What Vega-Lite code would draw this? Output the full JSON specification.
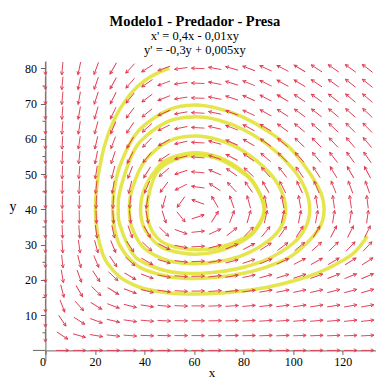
{
"$schema": "https://vega.github.io/schema/vega-lite/v6.json",
"width": 331, "height": 300, "autosize": "none",
"padding": {"left": 45.4, "top": 61, "right": 0, "bottom": 19},
"background": "white",
"config": {"view": {"stroke": null}, "font": "Liberation Serif"},
"title": {"text": "Modelo1 - Predador - Presa", "subtitle": ["x' = 0,4x - 0,01xy", "y' = -0,3y + 0,005xy"], "font": "Liberation Serif", "fontSize": 14.5, "fontWeight": "bold", "color": "#000", "subtitleFont": "Liberation Sans Narrow", "subtitleFontSize": 12.5, "subtitleColor": "#000", "subtitlePadding": 1, "subtitleLineHeight": 13.5, "anchor": "middle", "dx": -16, "offset": 3},
"datasets": {
"minor": [{"y":5},{"y":15},{"y":25},{"y":35},{"y":45},{"y":55},{"y":65},{"y":75}],
"orbits": [
{"o":0,"k":0,"x":41,"y":40},{"o":0,"k":1,"x":42,"y":35.5},{"o":0,"k":2,"x":45,"y":32},{"o":0,"k":3,"x":50,"y":29.8},{"o":0,"k":4,"x":60,"y":28.6},{"o":0,"k":5,"x":70,"y":29.2},{"o":0,"k":6,"x":80,"y":31.8},{"o":0,"k":7,"x":85,"y":34.6},{"o":0,"k":8,"x":88.3,"y":40},{"o":0,"k":9,"x":85,"y":46.4},{"o":0,"k":10,"x":80,"y":50.2},{"o":0,"k":11,"x":70,"y":54.3},{"o":0,"k":12,"x":60,"y":55.4},{"o":0,"k":13,"x":50,"y":53.4},{"o":0,"k":14,"x":45,"y":50.5},{"o":0,"k":15,"x":42,"y":45},
{"o":1,"k":0,"x":38.4,"y":40},{"o":1,"k":1,"x":40,"y":34.6},{"o":1,"k":2,"x":45,"y":30.2},{"o":1,"k":3,"x":50,"y":28.4},{"o":1,"k":4,"x":60,"y":27.3},{"o":1,"k":5,"x":70,"y":28.2},{"o":1,"k":6,"x":80,"y":31.2},{"o":1,"k":7,"x":85,"y":34.2},{"o":1,"k":8,"x":88.5,"y":40},{"o":1,"k":9,"x":85,"y":46.6},{"o":1,"k":10,"x":80,"y":50.6},{"o":1,"k":11,"x":70,"y":54.8},{"o":1,"k":12,"x":60,"y":56.1},{"o":1,"k":13,"x":50,"y":54.4},{"o":1,"k":14,"x":45,"y":51.6},{"o":1,"k":15,"x":40,"y":45.9},
{"o":2,"k":0,"x":33.9,"y":40},{"o":2,"k":1,"x":35,"y":34.7},{"o":2,"k":2,"x":40,"y":28.9},{"o":2,"k":3,"x":50,"y":25.4},{"o":2,"k":4,"x":60,"y":24.6},{"o":2,"k":5,"x":70,"y":25.2},{"o":2,"k":6,"x":80,"y":27.1},{"o":2,"k":7,"x":90,"y":31.1},{"o":2,"k":8,"x":95,"y":34.9},{"o":2,"k":9,"x":97,"y":40},{"o":2,"k":10,"x":95,"y":45.6},{"o":2,"k":11,"x":90,"y":50.7},{"o":2,"k":12,"x":80,"y":56.5},{"o":2,"k":13,"x":70,"y":59.7},{"o":2,"k":14,"x":60,"y":60.8},{"o":2,"k":15,"x":50,"y":59.4},{"o":2,"k":16,"x":40,"y":53.6},{"o":2,"k":17,"x":35,"y":45.8},
{"o":3,"k":0,"x":29.4,"y":40},{"o":3,"k":1,"x":30,"y":35.7},{"o":3,"k":2,"x":35,"y":27.7},{"o":3,"k":3,"x":40,"y":24.85},{"o":3,"k":4,"x":50,"y":22.4},{"o":3,"k":5,"x":60,"y":21.8},{"o":3,"k":6,"x":70,"y":22.3},{"o":3,"k":7,"x":80,"y":23.6},{"o":3,"k":8,"x":90,"y":26},{"o":3,"k":9,"x":100,"y":30.4},{"o":3,"k":10,"x":105,"y":34.9},{"o":3,"k":11,"x":106.7,"y":40},{"o":3,"k":12,"x":105,"y":45.6},{"o":3,"k":13,"x":100,"y":51.4},{"o":3,"k":14,"x":90,"y":58.2},{"o":3,"k":15,"x":80,"y":62.6},{"o":3,"k":16,"x":70,"y":65.3},{"o":3,"k":17,"x":60,"y":66.25},{"o":3,"k":18,"x":50,"y":65.1},{"o":3,"k":19,"x":40,"y":60.4},{"o":3,"k":20,"x":35,"y":55.5},{"o":3,"k":21,"x":30,"y":45},
{"o":4,"k":0,"x":27.1,"y":40},{"o":4,"k":1,"x":28,"y":34.2},{"o":4,"k":2,"x":30,"y":29.8},{"o":4,"k":3,"x":35,"y":25.2},{"o":4,"k":4,"x":40,"y":22.9},{"o":4,"k":5,"x":50,"y":20.9},{"o":4,"k":6,"x":60,"y":20.4},{"o":4,"k":7,"x":70,"y":20.8},{"o":4,"k":8,"x":80,"y":21.9},{"o":4,"k":9,"x":90,"y":23.85},{"o":4,"k":10,"x":100,"y":27.1},{"o":4,"k":11,"x":110,"y":34.1},{"o":4,"k":12,"x":112.5,"y":40},{"o":4,"k":13,"x":110,"y":46.5},{"o":4,"k":14,"x":100,"y":56.5},{"o":4,"k":15,"x":90,"y":62.1},{"o":4,"k":16,"x":80,"y":66.1},{"o":4,"k":17,"x":70,"y":68.6},{"o":4,"k":18,"x":60,"y":69.6},{"o":4,"k":19,"x":50,"y":68.3},{"o":4,"k":20,"x":40,"y":63.9},{"o":4,"k":21,"x":35,"y":59.8},{"o":4,"k":22,"x":30,"y":52.2},{"o":4,"k":23,"x":28,"y":46.5}
],
"outer": [
{"k":0,"x":50,"y":80},{"k":1,"x":45,"y":78.6},{"k":2,"x":40,"y":76.5},{"k":3,"x":35,"y":73.3},{"k":4,"x":30,"y":68.4},{"k":5,"x":27,"y":64.2},{"k":6,"x":25,"y":60.6},{"k":7,"x":23,"y":55.7},{"k":8,"x":21,"y":48},{"k":9,"x":20.2,"y":40},{"k":10,"x":21,"y":33.2},{"k":11,"x":23,"y":27.6},{"k":12,"x":25,"y":24.75},{"k":13,"x":30,"y":20.85},{"k":14,"x":35,"y":18.8},{"k":15,"x":40,"y":17.5},{"k":16,"x":50,"y":16.3},{"k":17,"x":60,"y":16},{"k":18,"x":70,"y":16.2},{"k":19,"x":80,"y":16.9},{"k":20,"x":90,"y":18},{"k":21,"x":100,"y":19.7},{"k":22,"x":110,"y":22},{"k":23,"x":120,"y":25.5},{"k":24,"x":125,"y":28},{"k":25,"x":130,"y":32.4}
],
"field": [
{"x":0,"y":4.21,"a":180},{"x":0,"y":8.42,"a":180},{"x":0,"y":12.63,"a":180},{"x":0,"y":16.84,"a":180},{"x":0,"y":21.05,"a":180},{"x":0,"y":25.26,"a":180},{"x":0,"y":29.47,"a":180},{"x":0,"y":33.68,"a":180},{"x":0,"y":37.89,"a":180},{"x":0,"y":42.11,"a":180},{"x":0,"y":46.32,"a":180},{"x":0,"y":50.53,"a":180},{"x":0,"y":54.74,"a":180},{"x":0,"y":58.95,"a":180},{"x":0,"y":63.16,"a":180},{"x":0,"y":67.37,"a":180},{"x":0,"y":71.58,"a":180},{"x":0,"y":75.79,"a":180},{"x":0,"y":80,"a":180},
{"x":6.84,"y":0,"a":90},{"x":6.84,"y":4.21,"a":123},{"x":6.84,"y":8.42,"a":146},{"x":6.84,"y":12.63,"a":159},{"x":6.84,"y":16.84,"a":166},{"x":6.84,"y":21.05,"a":171},{"x":6.84,"y":25.26,"a":174},{"x":6.84,"y":29.47,"a":176},{"x":6.84,"y":33.68,"a":178},{"x":6.84,"y":37.89,"a":179},{"x":6.84,"y":42.11,"a":181},{"x":6.84,"y":46.32,"a":181},{"x":6.84,"y":50.53,"a":182},{"x":6.84,"y":54.74,"a":183},{"x":6.84,"y":58.95,"a":183},{"x":6.84,"y":63.16,"a":184},{"x":6.84,"y":67.37,"a":184},{"x":6.84,"y":71.58,"a":185},{"x":6.84,"y":75.79,"a":185},{"x":6.84,"y":80,"a":185},
{"x":13.68,"y":0,"a":90},{"x":13.68,"y":4.21,"a":106},{"x":13.68,"y":8.42,"a":123},{"x":13.68,"y":12.63,"a":138},{"x":13.68,"y":16.84,"a":150},{"x":13.68,"y":21.05,"a":160},{"x":13.68,"y":25.26,"a":166},{"x":13.68,"y":29.47,"a":172},{"x":13.68,"y":33.68,"a":176},{"x":13.68,"y":37.89,"a":179},{"x":13.68,"y":42.11,"a":181},{"x":13.68,"y":46.32,"a":183},{"x":13.68,"y":50.53,"a":185},{"x":13.68,"y":54.74,"a":186},{"x":13.68,"y":58.95,"a":188},{"x":13.68,"y":63.16,"a":189},{"x":13.68,"y":67.37,"a":190},{"x":13.68,"y":71.58,"a":190},{"x":13.68,"y":75.79,"a":191},{"x":13.68,"y":80,"a":192},
{"x":20.53,"y":0,"a":90},{"x":20.53,"y":4.21,"a":99},{"x":20.53,"y":8.42,"a":110},{"x":20.53,"y":12.63,"a":122},{"x":20.53,"y":16.84,"a":135},{"x":20.53,"y":21.05,"a":147},{"x":20.53,"y":25.26,"a":157},{"x":20.53,"y":29.47,"a":165},{"x":20.53,"y":33.68,"a":172},{"x":20.53,"y":37.89,"a":178},{"x":20.53,"y":42.11,"a":182},{"x":20.53,"y":46.32,"a":186},{"x":20.53,"y":50.53,"a":189},{"x":20.53,"y":54.74,"a":191},{"x":20.53,"y":58.95,"a":193},{"x":20.53,"y":63.16,"a":195},{"x":20.53,"y":67.37,"a":196},{"x":20.53,"y":71.58,"a":198},{"x":20.53,"y":75.79,"a":199},{"x":20.53,"y":80,"a":200},
{"x":27.37,"y":0,"a":90},{"x":27.37,"y":4.21,"a":96},{"x":27.37,"y":8.42,"a":103},{"x":27.37,"y":12.63,"a":111},{"x":27.37,"y":16.84,"a":122},{"x":27.37,"y":21.05,"a":133},{"x":27.37,"y":25.26,"a":146},{"x":27.37,"y":29.47,"a":157},{"x":27.37,"y":33.68,"a":168},{"x":27.37,"y":37.89,"a":176},{"x":27.37,"y":42.11,"a":183},{"x":27.37,"y":46.32,"a":189},{"x":27.37,"y":50.53,"a":194},{"x":27.37,"y":54.74,"a":198},{"x":27.37,"y":58.95,"a":201},{"x":27.37,"y":63.16,"a":203},{"x":27.37,"y":67.37,"a":206},{"x":27.37,"y":71.58,"a":207},{"x":27.37,"y":75.79,"a":209},{"x":27.37,"y":80,"a":210},
{"x":34.21,"y":0,"a":90},{"x":34.21,"y":4.21,"a":94},{"x":34.21,"y":8.42,"a":98},{"x":34.21,"y":12.63,"a":104},{"x":34.21,"y":16.84,"a":111},{"x":34.21,"y":21.05,"a":121},{"x":34.21,"y":25.26,"a":133},{"x":34.21,"y":29.47,"a":146},{"x":34.21,"y":33.68,"a":161},{"x":34.21,"y":37.89,"a":174},{"x":34.21,"y":42.11,"a":185},{"x":34.21,"y":46.32,"a":194},{"x":34.21,"y":50.53,"a":201},{"x":34.21,"y":54.74,"a":207},{"x":34.21,"y":58.95,"a":211},{"x":34.21,"y":63.16,"a":214},{"x":34.21,"y":67.37,"a":217},{"x":34.21,"y":71.58,"a":219},{"x":34.21,"y":75.79,"a":221},{"x":34.21,"y":80,"a":223},
{"x":41.05,"y":0,"a":90},{"x":41.05,"y":4.21,"a":92},{"x":41.05,"y":8.42,"a":95},{"x":41.05,"y":12.63,"a":99},{"x":41.05,"y":16.84,"a":104},{"x":41.05,"y":21.05,"a":110},{"x":41.05,"y":25.26,"a":120},{"x":41.05,"y":29.47,"a":133},{"x":41.05,"y":33.68,"a":150},{"x":41.05,"y":37.89,"a":170},{"x":41.05,"y":42.11,"a":189},{"x":41.05,"y":46.32,"a":203},{"x":41.05,"y":50.53,"a":212},{"x":41.05,"y":54.74,"a":219},{"x":41.05,"y":58.95,"a":224},{"x":41.05,"y":63.16,"a":228},{"x":41.05,"y":67.37,"a":231},{"x":41.05,"y":71.58,"a":233},{"x":41.05,"y":75.79,"a":235},{"x":41.05,"y":80,"a":237},
{"x":47.89,"y":0,"a":90},{"x":47.89,"y":4.21,"a":91},{"x":47.89,"y":8.42,"a":93},{"x":47.89,"y":12.63,"a":95},{"x":47.89,"y":16.84,"a":98},{"x":47.89,"y":21.05,"a":101},{"x":47.89,"y":25.26,"a":107},{"x":47.89,"y":29.47,"a":117},{"x":47.89,"y":33.68,"a":134},{"x":47.89,"y":37.89,"a":163},{"x":47.89,"y":42.11,"a":196},{"x":47.89,"y":46.32,"a":217},{"x":47.89,"y":50.53,"a":229},{"x":47.89,"y":54.74,"a":236},{"x":47.89,"y":58.95,"a":241},{"x":47.89,"y":63.16,"a":244},{"x":47.89,"y":67.37,"a":246},{"x":47.89,"y":71.58,"a":248},{"x":47.89,"y":75.79,"a":249},{"x":47.89,"y":80,"a":250},
{"x":54.74,"y":0,"a":90},{"x":54.74,"y":4.21,"a":90},{"x":54.74,"y":8.42,"a":91},{"x":54.74,"y":12.63,"a":92},{"x":54.74,"y":16.84,"a":93},{"x":54.74,"y":21.05,"a":94},{"x":54.74,"y":25.26,"a":97},{"x":54.74,"y":29.47,"a":101},{"x":54.74,"y":33.68,"a":110},{"x":54.74,"y":37.89,"a":141},{"x":54.74,"y":42.11,"a":216},{"x":54.74,"y":46.32,"a":243},{"x":54.74,"y":50.53,"a":252},{"x":54.74,"y":54.74,"a":256},{"x":54.74,"y":58.95,"a":258},{"x":54.74,"y":63.16,"a":259},{"x":54.74,"y":67.37,"a":260},{"x":54.74,"y":71.58,"a":261},{"x":54.74,"y":75.79,"a":262},{"x":54.74,"y":80,"a":262},
{"x":61.58,"y":0,"a":90},{"x":61.58,"y":4.21,"a":90},{"x":61.58,"y":8.42,"a":90},{"x":61.58,"y":12.63,"a":90},{"x":61.58,"y":16.84,"a":89},{"x":61.58,"y":21.05,"a":89},{"x":61.58,"y":25.26,"a":88},{"x":61.58,"y":29.47,"a":87},{"x":61.58,"y":33.68,"a":84},{"x":61.58,"y":37.89,"a":72},{"x":61.58,"y":42.11,"a":290},{"x":61.58,"y":46.32,"a":278},{"x":61.58,"y":50.53,"a":275},{"x":61.58,"y":54.74,"a":274},{"x":61.58,"y":58.95,"a":273},{"x":61.58,"y":63.16,"a":273},{"x":61.58,"y":67.37,"a":273},{"x":61.58,"y":71.58,"a":272},{"x":61.58,"y":75.79,"a":272},{"x":61.58,"y":80,"a":272},
{"x":68.42,"y":0,"a":90},{"x":68.42,"y":4.21,"a":89},{"x":68.42,"y":8.42,"a":89},{"x":68.42,"y":12.63,"a":88},{"x":68.42,"y":16.84,"a":86},{"x":68.42,"y":21.05,"a":84},{"x":68.42,"y":25.26,"a":81},{"x":68.42,"y":29.47,"a":76},{"x":68.42,"y":33.68,"a":65},{"x":68.42,"y":37.89,"a":32},{"x":68.42,"y":42.11,"a":330},{"x":68.42,"y":46.32,"a":303},{"x":68.42,"y":50.53,"a":293},{"x":68.42,"y":54.74,"a":288},{"x":68.42,"y":58.95,"a":285},{"x":68.42,"y":63.16,"a":283},{"x":68.42,"y":67.37,"a":282},{"x":68.42,"y":71.58,"a":281},{"x":68.42,"y":75.79,"a":281},{"x":68.42,"y":80,"a":280},
{"x":75.26,"y":0,"a":90},{"x":75.26,"y":4.21,"a":89},{"x":75.26,"y":8.42,"a":88},{"x":75.26,"y":12.63,"a":86},{"x":75.26,"y":16.84,"a":84},{"x":75.26,"y":21.05,"a":81},{"x":75.26,"y":25.26,"a":76},{"x":75.26,"y":29.47,"a":68},{"x":75.26,"y":33.68,"a":52},{"x":75.26,"y":37.89,"a":21},{"x":75.26,"y":42.11,"a":341},{"x":75.26,"y":46.32,"a":317},{"x":75.26,"y":50.53,"a":305},{"x":75.26,"y":54.74,"a":298},{"x":75.26,"y":58.95,"a":294},{"x":75.26,"y":63.16,"a":291},{"x":75.26,"y":67.37,"a":290},{"x":75.26,"y":71.58,"a":288},{"x":75.26,"y":75.79,"a":287},{"x":75.26,"y":80,"a":286},
{"x":82.11,"y":0,"a":90},{"x":82.11,"y":4.21,"a":89},{"x":82.11,"y":8.42,"a":87},{"x":82.11,"y":12.63,"a":85},{"x":82.11,"y":16.84,"a":82},{"x":82.11,"y":21.05,"a":78},{"x":82.11,"y":25.26,"a":72},{"x":82.11,"y":29.47,"a":62},{"x":82.11,"y":33.68,"a":44},{"x":82.11,"y":37.89,"a":16},{"x":82.11,"y":42.11,"a":345},{"x":82.11,"y":46.32,"a":325},{"x":82.11,"y":50.53,"a":313},{"x":82.11,"y":54.74,"a":305},{"x":82.11,"y":58.95,"a":301},{"x":82.11,"y":63.16,"a":298},{"x":82.11,"y":67.37,"a":295},{"x":82.11,"y":71.58,"a":294},{"x":82.11,"y":75.79,"a":292},{"x":82.11,"y":80,"a":291},
{"x":88.95,"y":0,"a":90},{"x":88.95,"y":4.21,"a":88},{"x":88.95,"y":8.42,"a":86},{"x":88.95,"y":12.63,"a":84},{"x":88.95,"y":16.84,"a":80},{"x":88.95,"y":21.05,"a":75},{"x":88.95,"y":25.26,"a":68},{"x":88.95,"y":29.47,"a":57},{"x":88.95,"y":33.68,"a":39},{"x":88.95,"y":37.89,"a":13},{"x":88.95,"y":42.11,"a":348},{"x":88.95,"y":46.32,"a":330},{"x":88.95,"y":50.53,"a":318},{"x":88.95,"y":54.74,"a":311},{"x":88.95,"y":58.95,"a":306},{"x":88.95,"y":63.16,"a":302},{"x":88.95,"y":67.37,"a":300},{"x":88.95,"y":71.58,"a":298},{"x":88.95,"y":75.79,"a":296},{"x":88.95,"y":80,"a":295},
{"x":95.79,"y":0,"a":90},{"x":95.79,"y":4.21,"a":88},{"x":95.79,"y":8.42,"a":86},{"x":95.79,"y":12.63,"a":83},{"x":95.79,"y":16.84,"a":79},{"x":95.79,"y":21.05,"a":73},{"x":95.79,"y":25.26,"a":65},{"x":95.79,"y":29.47,"a":53},{"x":95.79,"y":33.68,"a":35},{"x":95.79,"y":37.89,"a":12},{"x":95.79,"y":42.11,"a":349},{"x":95.79,"y":46.32,"a":333},{"x":95.79,"y":50.53,"a":322},{"x":95.79,"y":54.74,"a":315},{"x":95.79,"y":58.95,"a":310},{"x":95.79,"y":63.16,"a":306},{"x":95.79,"y":67.37,"a":303},{"x":95.79,"y":71.58,"a":301},{"x":95.79,"y":75.79,"a":299},{"x":95.79,"y":80,"a":298},
{"x":102.63,"y":0,"a":90},{"x":102.63,"y":4.21,"a":88},{"x":102.63,"y":8.42,"a":85},{"x":102.63,"y":12.63,"a":82},{"x":102.63,"y":16.84,"a":78},{"x":102.63,"y":21.05,"a":72},{"x":102.63,"y":25.26,"a":63},{"x":102.63,"y":29.47,"a":50},{"x":102.63,"y":33.68,"a":32},{"x":102.63,"y":37.89,"a":11},{"x":102.63,"y":42.11,"a":350},{"x":102.63,"y":46.32,"a":335},{"x":102.63,"y":50.53,"a":325},{"x":102.63,"y":54.74,"a":318},{"x":102.63,"y":58.95,"a":313},{"x":102.63,"y":63.16,"a":309},{"x":102.63,"y":67.37,"a":306},{"x":102.63,"y":71.58,"a":304},{"x":102.63,"y":75.79,"a":302},{"x":102.63,"y":80,"a":301},
{"x":109.47,"y":0,"a":90},{"x":109.47,"y":4.21,"a":88},{"x":109.47,"y":8.42,"a":85},{"x":109.47,"y":12.63,"a":81},{"x":109.47,"y":16.84,"a":77},{"x":109.47,"y":21.05,"a":70},{"x":109.47,"y":25.26,"a":61},{"x":109.47,"y":29.47,"a":48},{"x":109.47,"y":33.68,"a":30},{"x":109.47,"y":37.89,"a":10},{"x":109.47,"y":42.11,"a":351},{"x":109.47,"y":46.32,"a":337},{"x":109.47,"y":50.53,"a":327},{"x":109.47,"y":54.74,"a":320},{"x":109.47,"y":58.95,"a":315},{"x":109.47,"y":63.16,"a":311},{"x":109.47,"y":67.37,"a":308},{"x":109.47,"y":71.58,"a":306},{"x":109.47,"y":75.79,"a":304},{"x":109.47,"y":80,"a":303},
{"x":116.32,"y":0,"a":90},{"x":116.32,"y":4.21,"a":88},{"x":116.32,"y":8.42,"a":85},{"x":116.32,"y":12.63,"a":81},{"x":116.32,"y":16.84,"a":76},{"x":116.32,"y":21.05,"a":69},{"x":116.32,"y":25.26,"a":59},{"x":116.32,"y":29.47,"a":46},{"x":116.32,"y":33.68,"a":28},{"x":116.32,"y":37.89,"a":9},{"x":116.32,"y":42.11,"a":352},{"x":116.32,"y":46.32,"a":338},{"x":116.32,"y":50.53,"a":329},{"x":116.32,"y":54.74,"a":322},{"x":116.32,"y":58.95,"a":317},{"x":116.32,"y":63.16,"a":313},{"x":116.32,"y":67.37,"a":310},{"x":116.32,"y":71.58,"a":308},{"x":116.32,"y":75.79,"a":306},{"x":116.32,"y":80,"a":305},
{"x":123.16,"y":0,"a":90},{"x":123.16,"y":4.21,"a":88},{"x":123.16,"y":8.42,"a":84},{"x":123.16,"y":12.63,"a":80},{"x":123.16,"y":16.84,"a":75},{"x":123.16,"y":21.05,"a":68},{"x":123.16,"y":25.26,"a":58},{"x":123.16,"y":29.47,"a":44},{"x":123.16,"y":33.68,"a":27},{"x":123.16,"y":37.89,"a":9},{"x":123.16,"y":42.11,"a":352},{"x":123.16,"y":46.32,"a":340},{"x":123.16,"y":50.53,"a":330},{"x":123.16,"y":54.74,"a":324},{"x":123.16,"y":58.95,"a":319},{"x":123.16,"y":63.16,"a":315},{"x":123.16,"y":67.37,"a":312},{"x":123.16,"y":71.58,"a":310},{"x":123.16,"y":75.79,"a":308},{"x":123.16,"y":80,"a":306},
{"x":130,"y":0,"a":90},{"x":130,"y":4.21,"a":87},{"x":130,"y":8.42,"a":84},{"x":130,"y":12.63,"a":80},{"x":130,"y":16.84,"a":74},{"x":130,"y":21.05,"a":67},{"x":130,"y":25.26,"a":57},{"x":130,"y":29.47,"a":43},{"x":130,"y":33.68,"a":26},{"x":130,"y":37.89,"a":8},{"x":130,"y":42.11,"a":353},{"x":130,"y":46.32,"a":341},{"x":130,"y":50.53,"a":332},{"x":130,"y":54.74,"a":325},{"x":130,"y":58.95,"a":320},{"x":130,"y":63.16,"a":316},{"x":130,"y":67.37,"a":313},{"x":130,"y":71.58,"a":311},{"x":130,"y":75.79,"a":309},{"x":130,"y":80,"a":307}
]
},
"layer": [
{"data": {"name": "orbits"},
 "mark": {"type": "line", "interpolate": "cardinal-closed", "color": "#e2e23a", "strokeWidth": 3.5, "opacity": 0.9},
 "encoding": {
  "x": {"field": "x", "type": "quantitative", "scale": {"domain": [0, 133.6], "nice": false, "zero": false},
   "axis": {"orient": "bottom", "offset": -10.6, "values": [0,10,20,30,40,50,60,70,80,90,100,110,120,130], "labelExpr": "datum.value % 20 == 0 ? datum.label : ''", "labelAlign": {"condition": {"test": "datum.value == 0", "value": "right"}, "value": "center"}, "labelFlush": false, "labelOverlap": false, "grid": false, "tickSize": 4, "labelPadding": 2, "labelFont": "Liberation Serif", "labelFontSize": 12, "labelColor": "#000", "domainColor": "#666", "tickColor": "#666", "title": "x", "titleFont": "Liberation Serif", "titleFontSize": 13, "titleFontWeight": "normal", "titleColor": "#000", "titleX": 166, "titleY": 26, "titleAlign": "center", "titleBaseline": "alphabetic"}},
  "y": {"field": "y", "type": "quantitative", "scale": {"domain": [-3, 82.1], "nice": false, "zero": false},
   "axis": {"orient": "left", "labels": true, "values": [10,20,30,40,50,60,70,80], "tickSize": 5, "grid": false, "labelPadding": 4, "labelFont": "Liberation Serif", "labelFontSize": 12, "labelColor": "#000", "domainColor": "#666", "tickColor": "#666", "title": "y", "titleAngle": 0, "titleFont": "Liberation Serif", "titleFontSize": 14, "titleFontWeight": "normal", "titleColor": "#000", "titleX": -33, "titleY": 146, "titleAlign": "center", "titleBaseline": "middle"}},
  "detail": {"field": "o", "type": "nominal"},
  "order": {"field": "k", "type": "quantitative"}
 }},
{"data": {"values": [{}]},
 "mark": {"type": "rule", "color": "#666", "strokeWidth": 1, "clip": false},
 "encoding": {
  "x": {"datum": -5, "type": "quantitative"},
  "x2": {"datum": 0},
  "y": {"datum": 0, "type": "quantitative"}
 }},
{"data": {"name": "minor"},
 "mark": {"type": "rule", "color": "#666", "strokeWidth": 1, "clip": false},
 "encoding": {
  "x": {"datum": -1.2, "type": "quantitative"},
  "x2": {"datum": 0},
  "y": {"field": "y", "type": "quantitative"}
 }},
{"data": {"name": "outer"},
 "mark": {"type": "line", "interpolate": "cardinal", "color": "#e2e23a", "strokeWidth": 3.5, "opacity": 0.9},
 "encoding": {
  "x": {"field": "x", "type": "quantitative"},
  "y": {"field": "y", "type": "quantitative"},
  "order": {"field": "k", "type": "quantitative"}
 }},
{"data": {"name": "field"},
 "mark": {"type": "point", "shape": "M0,1L0,-1M-0.25,-0.5L0,-1L0.25,-0.5", "filled": false, "stroke": "#e03a52", "strokeWidth": 0.9, "size": 169, "opacity": 1},
 "encoding": {
  "x": {"field": "x", "type": "quantitative"},
  "y": {"field": "y", "type": "quantitative"},
  "angle": {"field": "a", "type": "quantitative", "scale": null}
 }}
]
}
